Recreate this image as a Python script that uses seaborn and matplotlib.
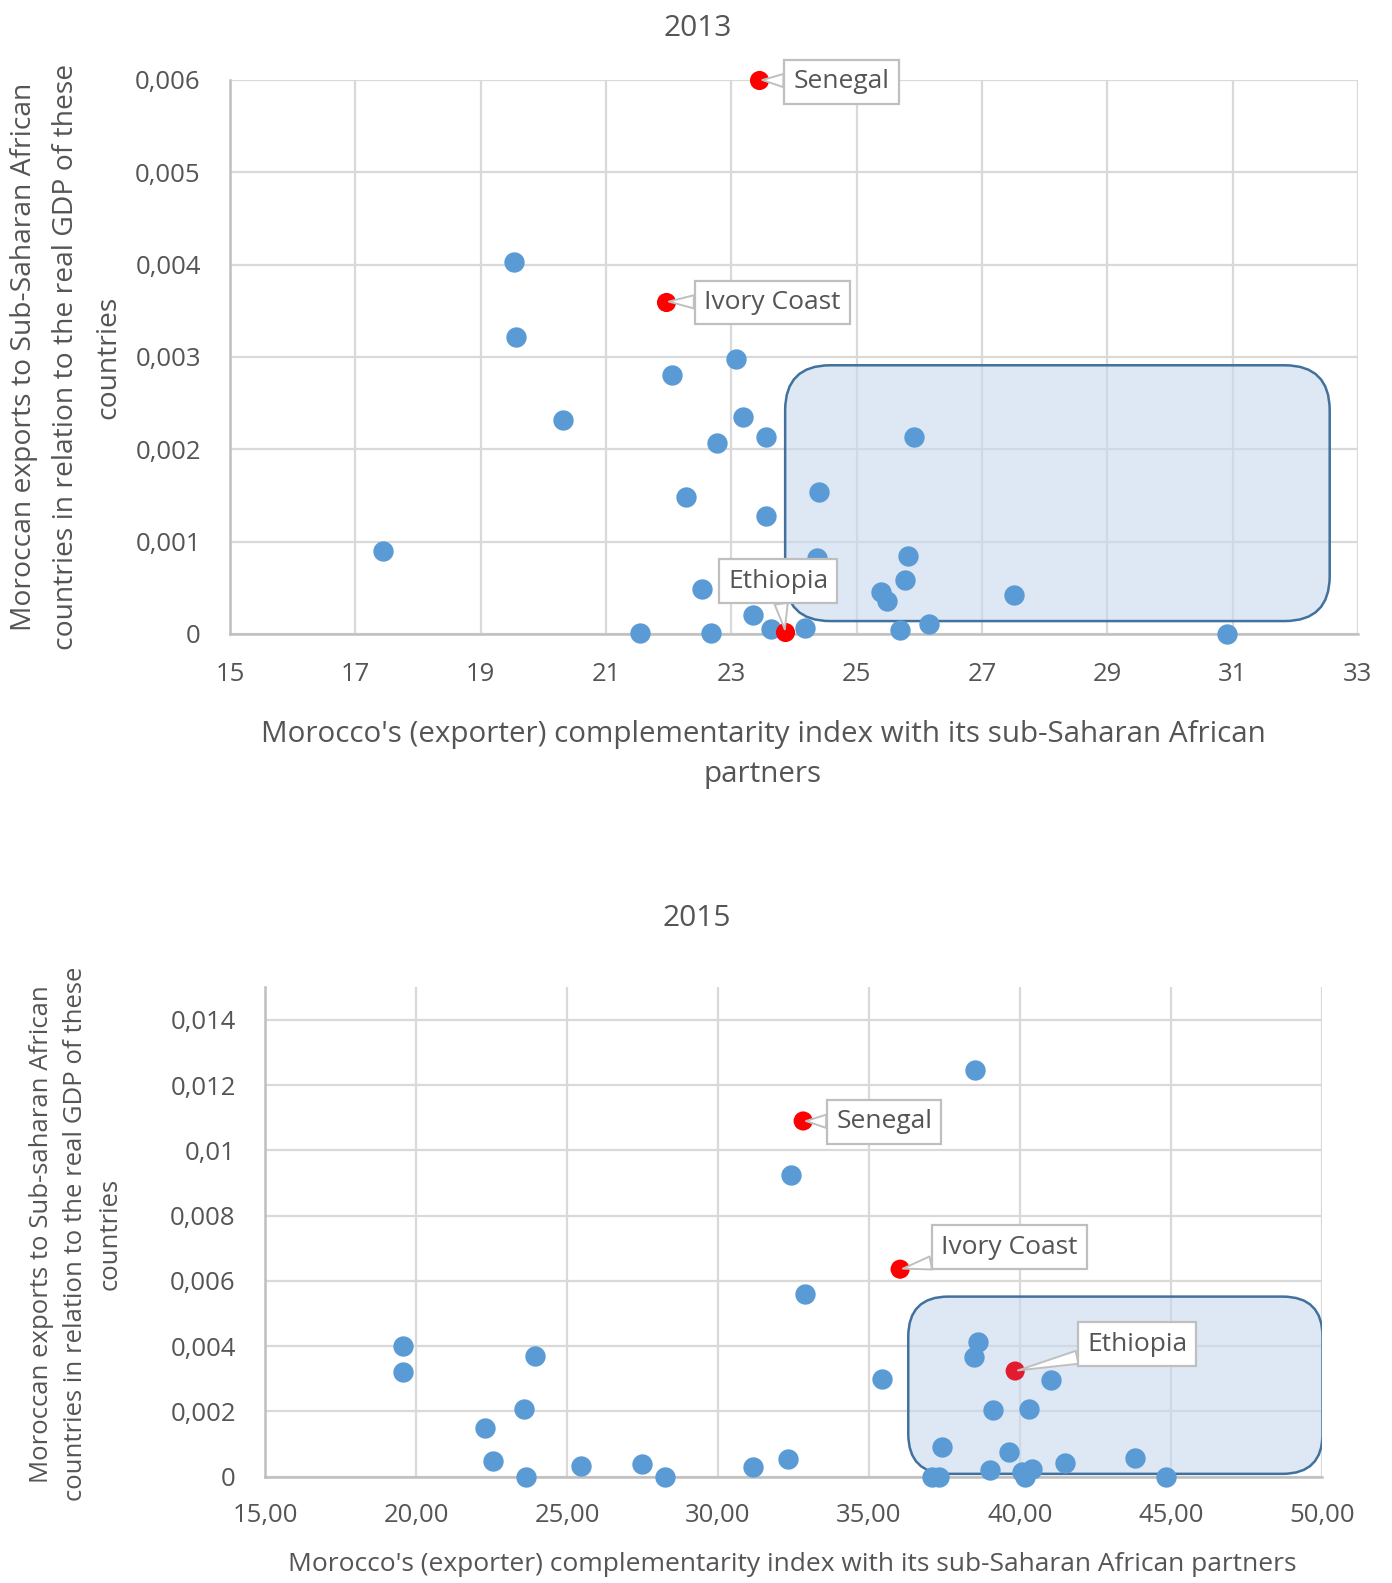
import pandas as pd
import matplotlib.pyplot as plt
import seaborn as sns
from matplotlib.patches import FancyBboxPatch

# -----------------------------
# Data
# -----------------------------

# 2013 - all partners
x_2013 = [19.54, 19.56, 20.31, 17.45, 22.05, 23.07, 23.19, 23.56, 22.77, 25.91,
          24.40, 22.28, 23.55, 24.37, 25.82, 25.77, 25.39, 25.48, 22.54, 23.35,
          26.16, 25.70, 21.54, 22.67, 23.64, 24.17, 27.51, 30.91]
y_2013 = [0.00403, 0.00322, 0.00232, 0.00090, 0.00281, 0.00298, 0.00235, 0.00213, 0.00207, 0.00213,
          0.00154, 0.00148, 0.00128, 0.00082, 0.00085, 0.00058, 0.00046, 0.00036, 0.00049, 0.00021,
          0.00011, 0.00004, 0.00001, 0.00001, 0.00005, 0.00006, 0.00042, 0.0]

# 2013 - highlighted partners
names_2013 = ["Senegal", "Ivory Coast", "Ethiopia"]
hx_2013 = [23.45, 21.96, 23.86]
hy_2013 = [0.006, 0.0036, 0.00002]

xticks_2013 = [15, 17, 19, 21, 23, 25, 27, 29, 31, 33]
yticks_2013 = [0, 0.001, 0.002, 0.003, 0.004, 0.005, 0.006]
ylabels_2013 = ["0", "0,001", "0,002", "0,003", "0,004", "0,005", "0,006"]

# 2015 - all partners
x_2015 = [19.56, 19.56, 23.93, 23.57, 22.28, 22.55, 23.63, 25.47, 27.47, 28.24,
          31.17, 32.31, 32.89, 32.43, 38.51, 35.43, 38.61, 38.47, 41.03, 39.12,
          40.31, 37.41, 39.64, 41.49, 43.81, 39.00, 37.09, 37.31, 40.06, 40.39,
          40.17, 44.85]
y_2015 = [0.0040, 0.0032, 0.0037, 0.00209, 0.00148, 0.00048, 0.0, 0.00034, 0.00039, 0.0,
          0.00029, 0.00054, 0.0056, 0.00925, 0.01247, 0.0030, 0.00413, 0.00366, 0.00295, 0.00206,
          0.00209, 0.00091, 0.00076, 0.00043, 0.00058, 0.0002, 0.0, 0.0, 0.00015, 0.00025,
          0.0, 0.0]

# 2015 - highlighted partners
names_2015 = ["Senegal", "Ivory Coast", "Ethiopia"]
hx_2015 = [32.82, 36.03, 39.84]
hy_2015 = [0.0109, 0.00636, 0.00324]

xticks_2015 = [15, 20, 25, 30, 35, 40, 45, 50]
xlabels_2015 = ["15,00", "20,00", "25,00", "30,00", "35,00", "40,00", "45,00", "50,00"]
yticks_2015 = [0, 0.002, 0.004, 0.006, 0.008, 0.010, 0.012, 0.014]
ylabels_2015 = ["0", "0,002", "0,004", "0,006", "0,008", "0,01", "0,012", "0,014"]

df_2013 = pd.DataFrame({"x": x_2013, "y": y_2013})
hl_2013 = pd.DataFrame({"name": names_2013, "x": hx_2013, "y": hy_2013})
df_2015 = pd.DataFrame({"x": x_2015, "y": y_2015})
hl_2015 = pd.DataFrame({"name": names_2015, "x": hx_2015, "y": hy_2015})

# -----------------------------
# Style
# -----------------------------

sns.set_style("white")
plt.rcParams["font.family"] = ["Open Sans", "DejaVu Sans"]

BLUE = "#5B9BD5"
RED = "#FF0000"
TEXT = "#555555"
GRID = "#D9D9D9"
AXIS = "#BFBFBF"

fig = plt.figure(figsize=(13.92, 15.83), dpi=100)
ax1 = fig.add_axes([0.1652, 0.5995, 0.8103, 0.3500])
ax2 = fig.add_axes([0.1904, 0.0671, 0.7593, 0.3093])


def style_axes(ax, xlim, ylim, xticks, yticks, xlabels, ylabels, xpad, ypad):
    ax.set_xlim(xlim)
    ax.set_ylim(ylim)
    ax.set_xticks(xticks)
    ax.set_xticklabels(xlabels)
    ax.set_yticks(yticks)
    ax.set_yticklabels(ylabels)
    ax.grid(True, color=GRID, lw=1.6, zorder=0)
    ax.set_axisbelow(True)
    for side in ["top", "right"]:
        ax.spines[side].set_visible(False)
    for side in ["left", "bottom"]:
        ax.spines[side].set_color(AXIS)
        ax.spines[side].set_linewidth(1.8)
    ax.tick_params(axis="x", length=0, pad=xpad, labelsize=18.5, labelcolor=TEXT)
    ax.tick_params(axis="y", length=0, pad=ypad, labelsize=18.5, labelcolor=TEXT)


def rounded_zone(ax, x0, x1, y0, y1, radius_px):
    # keep the corners circular although x and y scales differ
    p0 = ax.transData.transform((0, 0))
    p1 = ax.transData.transform((1, 1))
    px_x = p1[0] - p0[0]
    px_y = p1[1] - p0[1]
    r = radius_px / px_x
    box = FancyBboxPatch((x0, y0), x1 - x0, y1 - y0,
                         boxstyle=f"round,pad=0,rounding_size={r}",
                         mutation_aspect=px_x / px_y,
                         fc="#C9D9EE", alpha=0.6, ec="none", zorder=2)
    ax.add_patch(box)
    edge = FancyBboxPatch((x0, y0), x1 - x0, y1 - y0,
                          boxstyle=f"round,pad=0,rounding_size={r}",
                          mutation_aspect=px_x / px_y,
                          fc="none", ec="#41719C", lw=1.8, zorder=2.1)
    ax.add_patch(edge)


def callout(ax, name, x, y, dx, dy):
    ax.annotate(name, xy=(x, y), xytext=(dx, dy), textcoords="offset pixels",
                ha="center", va="center", fontsize=19, color=TEXT,
                bbox=dict(boxstyle="square,pad=0.35", fc="white", ec=AXIS, lw=1.6),
                arrowprops=dict(arrowstyle="wedge,tail_width=0.5,shrink_factor=0.5",
                                fc="white", ec=AXIS, lw=1.4, shrinkA=0, shrinkB=2),
                zorder=6, annotation_clip=False)


# -----------------------------
# 2013
# -----------------------------

style_axes(ax1, (15, 33), (0, 0.006), xticks_2013, yticks_2013,
           [str(t) for t in xticks_2013], ylabels_2013, 20, 21)
rounded_zone(ax1, 23.86, 32.55, 0.00014, 0.00291, 45)

sns.scatterplot(data=df_2013, x="x", y="y", ax=ax1, color=BLUE, s=215,
                linewidth=0, zorder=3, clip_on=False)
sns.scatterplot(data=hl_2013, x="x", y="y", ax=ax1, color=RED, s=190,
                linewidth=0, zorder=4, clip_on=False)

offsets_2013 = [(82, -2), (106, -1), (-7, 51)]
for (_, row), (dx, dy) in zip(hl_2013.iterrows(), offsets_2013):
    callout(ax1, row["name"], row["x"], row["y"], dx, dy)

ax1.set_xlabel("Morocco's (exporter) complementarity index with its sub-Saharan African\npartners",
               fontsize=21.3, color=TEXT, linespacing=1.5, va="center")
ax1.xaxis.set_label_coords(0.4725, -0.2175)
ax1.set_ylabel("Moroccan exports to Sub-Saharan African\ncountries in relation to the real GDP of these\ncountries",
               fontsize=20.3, color=TEXT, linespacing=1.68, va="center")
ax1.yaxis.set_label_coords(-0.145, 0.5)
fig.text(0.5014, 0.982, "2013", ha="center", va="center", fontsize=21.5, color=TEXT)

# -----------------------------
# 2015
# -----------------------------

style_axes(ax2, (15, 50), (0, 0.015), xticks_2015, yticks_2015,
           xlabels_2015, ylabels_2015, 19, 21)
rounded_zone(ax2, 36.3, 50.02, 0.00009, 0.00552, 40)

sns.scatterplot(data=df_2015, x="x", y="y", ax=ax2, color=BLUE, s=215,
                linewidth=0, zorder=3, clip_on=False)
sns.scatterplot(data=hl_2015, x="x", y="y", ax=ax2, color=[RED, RED, "#E31B2F"],
                s=190, linewidth=0, zorder=4, clip_on=False)

offsets_2015 = [(81, -1), (109, 22), (122, 27)]
for (_, row), (dx, dy) in zip(hl_2015.iterrows(), offsets_2015):
    callout(ax2, row["name"], row["x"], row["y"], dx, dy)

ax2.set_xlabel("Morocco's (exporter) complementarity index with its sub-Saharan African partners",
               fontsize=19, color=TEXT, va="center")
ax2.xaxis.set_label_coords(0.4986, -0.18)
ax2.set_ylabel("Moroccan exports to Sub-saharan African\ncountries in relation to the real GDP of these\ncountries",
               fontsize=18.5, color=TEXT, linespacing=1.5, va="center")
ax2.yaxis.set_label_coords(-0.179, 0.496)
fig.text(0.5004, 0.4195, "2015", ha="center", va="center", fontsize=21.5, color=TEXT)

fig.savefig("out.png", dpi=100)
